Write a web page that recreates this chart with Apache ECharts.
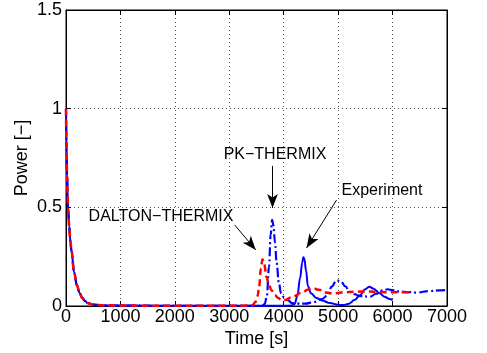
<!DOCTYPE html>
<html>
<head>
<meta charset="utf-8">
<script src="https://cdn.jsdelivr.net/npm/echarts@6/dist/echarts.min.js"></script>
<style>html,body{margin:0;padding:0;background:#fff;}#c{width:487px;height:353px;}</style>
</head>
<body>
<div id="c"></div>
<script>
// ---- data ----
var xTickLabels = ['0','1000','2000','3000','4000','5000','6000','7000'];
var yTickLabels = ['0','0.5','1','1.5'];

var expTime  = [0,10,20,30,40,60,80,100,150,200,250,300,350,400,500,700,1000,2000,3000,4000,4150,4200,4250,4300,4340,4360,4380,4410,4445,4500,4600,4700,4850,5000,5100,5200,5300,5400,5500,5570,5650,5760,5850,5950,6000];
var expPower = [1.0,0.8,0.66,0.56,0.49,0.4,0.33,0.28,0.17,0.105,0.066,0.04,0.025,0.015,0.007,0.003,0.002,0.001,0.001,0.001,0.002,0.01,0.05,0.14,0.22,0.247,0.24,0.18,0.1,0.065,0.04,0.028,0.015,0.006,0.005,0.012,0.03,0.055,0.085,0.098,0.088,0.065,0.047,0.035,0.03];

var pkTime  = [0,10,20,30,40,60,80,100,150,200,250,300,350,400,500,700,1000,2000,3000,3600,3650,3690,3730,3760,3787,3810,3840,3870,3910,3950,4000,4075,4150,4250,4400,4550,4700,4810,4880,4970,5050,5130,5215,5300,5400,5583,5700,5800,5914,6000,6134,6300,6440,6686,6850,7000];
var pkPower = [1.0,0.8,0.66,0.56,0.49,0.4,0.33,0.28,0.17,0.105,0.066,0.04,0.025,0.015,0.007,0.003,0.002,0.001,0.001,0.001,0.01,0.05,0.2,0.36,0.436,0.41,0.32,0.22,0.12,0.065,0.045,0.03,0.015,0.012,0.012,0.02,0.035,0.055,0.098,0.13,0.125,0.1,0.072,0.06,0.05,0.047,0.062,0.078,0.085,0.08,0.073,0.07,0.068,0.076,0.079,0.081];

var daltonTime  = [0,10,20,30,40,60,80,100,150,200,250,300,350,400,500,700,1000,2000,3000,3400,3430,3480,3520,3548,3580,3610,3640,3683,3730,3775,3840,3900,3960,4020,4150,4330,4450,4540,4650,4780,4900,5000,5120,5300,5500,5700,5900,6100,6300];
var daltonPower = [1.0,0.8,0.66,0.56,0.49,0.4,0.33,0.28,0.17,0.105,0.066,0.04,0.025,0.015,0.007,0.003,0.002,0.001,0.001,0.002,0.005,0.02,0.05,0.098,0.19,0.237,0.215,0.148,0.105,0.08,0.055,0.04,0.03,0.03,0.045,0.067,0.083,0.09,0.082,0.068,0.064,0.066,0.07,0.072,0.074,0.072,0.07,0.07,0.07];

function pairs(t, p) { return t.map(function (v, i) { return [v, p[i]]; }); }

var FONT = '"Liberation Sans", Arial, Helvetica, sans-serif';

var chart = echarts.init(document.getElementById('c'), null, {renderer: 'canvas'});

var arrowStyle = {color: '#000', width: 1, type: 'solid'};

chart.setOption({
  animation: false,
  backgroundColor: '#fff',
  grid: {left: 66, right: 40, top: 10, bottom: 47, show: true, borderColor: '#000', borderWidth: 1, backgroundColor: '#fff'},
  xAxis: [{
    type: 'value', min: 0, max: 7000, interval: 1000,
    name: 'Time [s]', nameLocation: 'middle', nameGap: 24, nameMoveOverlap: false,
    nameTextStyle: {fontFamily: FONT, fontSize: 18, color: '#000'},
    axisLine: {show: true, onZero: false, lineStyle: {color: '#000', width: 1}},
    axisTick: {show: true, inside: true, length: 5, lineStyle: {color: '#000'}},
    axisLabel: {margin: 2, fontFamily: FONT, fontSize: 18, color: '#000',
      formatter: function (v) { return xTickLabels[Math.round(v / 1000)]; }},
    splitLine: {show: true, lineStyle: {color: '#555', width: 1, type: [1, 3]}}
  }, {
    type: 'value', min: 0, max: 7000, interval: 1000, position: 'top',
    axisLine: {show: true, onZero: false, lineStyle: {color: '#000'}},
    axisTick: {show: true, inside: true, length: 5, lineStyle: {color: '#000'}},
    axisLabel: {show: false}, splitLine: {show: false}
  }],
  yAxis: [{
    type: 'value', min: 0, max: 1.5, interval: 0.5,
    name: 'Power [−]', nameLocation: 'middle', nameGap: 35, nameMoveOverlap: false,
    nameTextStyle: {fontFamily: FONT, fontSize: 18, color: '#000'},
    axisLine: {show: true, onZero: false, lineStyle: {color: '#000', width: 1}},
    axisTick: {show: true, inside: true, length: 5, lineStyle: {color: '#000'}},
    axisLabel: {margin: 4, fontFamily: FONT, fontSize: 18, color: '#000',
      formatter: function (v) { return yTickLabels[Math.round(v / 0.5)]; }},
    splitLine: {show: true, lineStyle: {color: '#555', width: 1, type: [1, 3]}}
  }, {
    type: 'value', min: 0, max: 1.5, interval: 0.5, position: 'right',
    axisLine: {show: true, onZero: false, lineStyle: {color: '#000'}},
    axisTick: {show: true, inside: true, length: 5, lineStyle: {color: '#000'}},
    axisLabel: {show: false}, splitLine: {show: false}
  }],
  series: [{
    name: 'Experiment', type: 'line', data: pairs(expTime, expPower),
    showSymbol: false, smooth: 0.4, smoothMonotone: 'x',
    lineStyle: {color: '#0000ff', width: 2, type: 'solid'}, z: 3,
    markLine: {silent: true, symbol: ['none', 'arrow'], symbolSize: [8, 14], label: {show: false},
      data: [[{coord: [4971, 0.537]}, {coord: [4419, 0.294]}]], lineStyle: arrowStyle}
  }, {
    name: 'PK-THERMIX', type: 'line', data: pairs(pkTime, pkPower),
    showSymbol: false, smooth: 0.4, smoothMonotone: 'x',
    lineStyle: {color: '#0000ff', width: 2.2, type: [9, 3, 2, 3]}, z: 4,
    markLine: {silent: true, symbol: ['none', 'arrow'], symbolSize: [8, 14], label: {show: false},
      data: [[{coord: [3794, 0.71]}, {coord: [3794, 0.497]}]], lineStyle: arrowStyle}
  }, {
    name: 'DALTON-THERMIX', type: 'line', data: pairs(daltonTime, daltonPower),
    showSymbol: false, smooth: 0.4, smoothMonotone: 'x',
    lineStyle: {color: '#ff0000', width: 2.5, type: [7, 4]}, z: 5,
    markLine: {silent: true, symbol: ['none', 'arrow'], symbolSize: [8, 14], label: {show: false},
      data: [[{coord: [3101, 0.41]}, {coord: [3487, 0.284]}]], lineStyle: arrowStyle}
  }],
  graphic: [
    {type: 'text', x: 275, y: 155, z: 10, style: {text: 'PK−THERMIX', fontFamily: FONT, fontSize: 16, fill: '#000', align: 'center', verticalAlign: 'middle'}},
    {type: 'text', x: 382, y: 191, z: 10, style: {text: 'Experiment', fontFamily: FONT, fontSize: 16, fill: '#000', align: 'center', verticalAlign: 'middle'}},
    {type: 'text', x: 161, y: 217, z: 10, style: {text: 'DALTON−THERMIX', fontFamily: FONT, fontSize: 16, fill: '#000', align: 'center', verticalAlign: 'middle'}}
  ]
});
</script>
</body>
</html>
